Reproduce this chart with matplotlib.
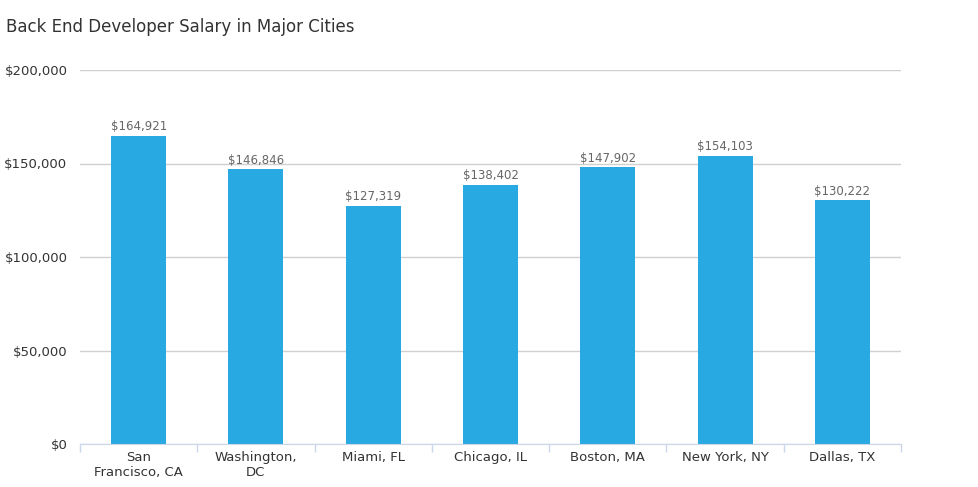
import matplotlib.pyplot as plt
import numpy as np
from matplotlib.ticker import FuncFormatter, FixedLocator

# данные
cities = ['San\nFrancisco, CA', 'Washington,\nDC', 'Miami, FL', 'Chicago, IL',
          'Boston, MA', 'New York, NY', 'Dallas, TX']
salaries = [164921, 146846, 127319, 138402, 147902, 154103, 130222]
y_ticks = [0, 50000, 100000, 150000, 200000]

plt.rcParams['font.family'] = ['DejaVu Sans']

fig = plt.figure(figsize=(9.79, 4.87), dpi=100)
ax = fig.add_axes([80 / 979, 43 / 487, 821 / 979, 374 / 487])

x = np.arange(len(cities))
bars = ax.bar(x, salaries, width=0.47, color='#29a9e1', zorder=3)

# подписи значений над столбцами
for xi, v in zip(x, salaries):
    ax.text(xi, v + 1500, '${:,}'.format(v), ha='center', va='bottom',
            fontsize=8.5, color='#666666', zorder=4)

ax.set_xlim(-0.5, len(cities) - 0.5)
ax.set_ylim(0, 200000)
ax.set_yticks(y_ticks)
ax.yaxis.set_major_formatter(FuncFormatter(lambda v, p: '${:,.0f}'.format(v)))
ax.set_xticks(x)
ax.set_xticklabels(cities, fontsize=9.5, color='#333333', linespacing=1.25)
ax.xaxis.set_minor_locator(FixedLocator(np.arange(-0.5, len(cities), 1.0)))
ax.tick_params(axis='x', which='major', length=0, pad=5)
ax.tick_params(axis='x', which='minor', length=6, color='#ccd6eb', width=1)
ax.tick_params(axis='y', length=0, labelsize=9.5, labelcolor='#333333', pad=9)

ax.yaxis.grid(True, color='#d0d0d0', linewidth=1, zorder=0)
for s in ['top', 'right', 'left']:
    ax.spines[s].set_visible(False)
ax.spines['bottom'].set_color('#ccd6eb')
ax.spines['bottom'].set_zorder(5)

fig.text(6 / 979, 1 - 27 / 487, 'Back End Developer Salary in Major Cities',
         fontsize=12, color='#333333', va='center', ha='left')

fig.savefig('out.png', dpi=100)
